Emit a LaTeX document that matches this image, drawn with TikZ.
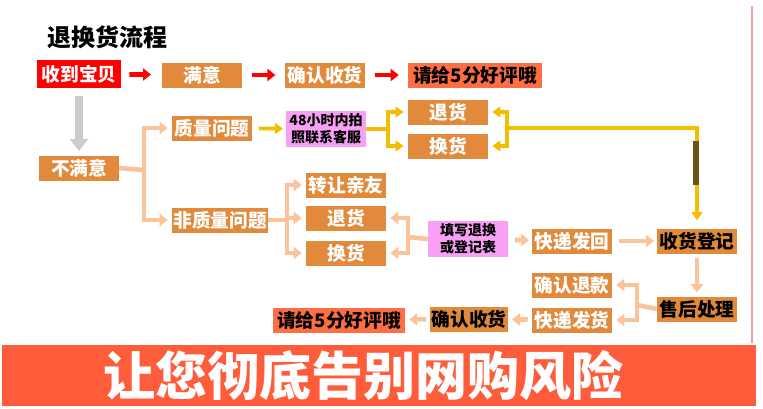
\documentclass[tikz,border=0pt]{standalone}
\usepackage{fontspec}
\setmainfont{Noto Sans CJK SC}
\usetikzlibrary{arrows.meta}
\definecolor{boxorange}{HTML}{E28A3B}
\definecolor{lightorange}{HTML}{FAC39A}
\definecolor{goldline}{HTML}{F3BE00}
\definecolor{pinkbox}{HTML}{F7A0F6}
\definecolor{redorange}{HTML}{FF6E42}
\definecolor{banner}{HTML}{FF5C3C}
\definecolor{darkseg}{HTML}{6E5414}
\definecolor{edgepink}{HTML}{F4A0A0}
\tikzset{
  box/.style={fill=boxorange, text=white, font=\bfseries\fontsize{14}{14}\selectfont,
    minimum width=60pt, minimum height=18.75pt, inner sep=0pt},
  darkbox/.style={box, text=black},
  rate/.style={box, fill=redorange, text=black, minimum width=99pt},
  pinkbox/.style={fill=pinkbox, text=black, font=\bfseries\fontsize{10.5}{13}\selectfont,
    align=center, minimum width=60pt, minimum height=27pt, inner sep=0pt},
  redarr/.style={draw=red, line width=3.5pt, -{Triangle[width=9pt,length=6pt]}},
  grayarr/.style={draw=black!20, line width=5.5pt, -{Triangle[width=13pt,length=9pt]}},
  lt/.style={draw=lightorange, line width=3.5pt},
  lta/.style={lt, -{Triangle[width=9pt,length=6pt]}, shorten >=3pt},
  yl/.style={draw=goldline, line width=2.8pt},
  yla/.style={yl, -{Triangle[width=8pt,length=6pt]}, shorten >=3pt}
}
\begin{document}
\begin{tikzpicture}[x=0.75pt,y=-0.75pt]
\useasboundingbox (0,0) rectangle (763,408);
% title
\node[font=\bfseries\fontsize{18}{18}\selectfont] (title) at (107,37) {退换货流程};
% top row
\node[box, fill=red, minimum width=63pt, minimum height=21pt] (rcv) at (79,74) {收到宝贝};
\node[box] (sat) at (202,75) {满意};
\node[box] (conf1) at (325,75) {确认收货};
\node[rate, minimum width=100pt] (rate1) at (475,75) {请给5分好评哦};
\draw[redarr, shorten <=6pt, shorten >=8pt] (rcv) -- (sat);
\draw[redarr, shorten <=7pt, shorten >=7pt] (sat) -- (conf1);
\draw[redarr, shorten <=7pt, shorten >=7pt] (conf1) -- (rate1);
% unhappy branch
\node[box] (unsat) at (79,168) {不满意};
\draw[grayarr, shorten <=6pt, shorten >=3pt] (rcv) -- (unsat);
\node[box] (qual) at (212,128) {质量问题};
\node[box, minimum width=72pt] (nqual) at (220,220) {非质量问题};
\coordinate (j1) at (144,170);
\draw[lt] (unsat.east) -- (j1);
\draw[lta] (j1) |- (qual.west);
\draw[lta] (j1) |- (nqual.west);
% quality problem
\node[pinkbox] (photo) at (326,129) {48小时内拍\\照联系客服};
\draw[yla, shorten <=5pt, shorten >=2pt] (qual) -- (photo);
\node[box] (ret1) at (448,112) {退货};
\node[box] (exc1) at (448,146) {换货};
\coordinate (j2) at (388,129);
\draw[yl] (photo.east) -- (j2);
\draw[yla] (j2) |- (ret1.west);
\draw[yla] (j2) |- (exc1.west);
\node[darkbox, minimum width=60pt] (recv) at (697,241) {收货登记};
\coordinate (j3) at (507,128);
\draw[yla] (j3) |- (ret1.east);
\draw[yla] (j3) |- (exc1.east);
\draw[yla, shorten >=6pt] (j3) -| (recv.north);
\draw[darkseg, line width=5pt] (696,141) -- (696,185);
% non-quality problem
\node[box] (gift) at (346,185) {转让亲友};
\node[box] (ret2) at (346,218) {退货};
\node[box] (exc2) at (346,253) {换货};
\coordinate (j4) at (287,220);
\draw[lt] (nqual.east) -- (j4);
\draw[lta] (j4) |- (gift.west);
\draw[lta] (j4) |- (ret2.west);
\draw[lta] (j4) |- (exc2.west);
\node[pinkbox] (form) at (468,239) {填写退换\\或登记表};
\coordinate (j5) at (408,237);
\draw[lt] (form.west) -- (j5);
\draw[lta] (j5) |- (ret2.east);
\draw[lta] (j5) |- (exc2.east);
\node[box] (back) at (572,241) {快递发回};
\draw[lta, shorten <=5pt, shorten >=2pt] (form) -- (back);
\draw[lta, shorten <=5pt, shorten >=2pt] (back) -- (recv);
% after sales
\node[darkbox] (after) at (697,309) {售后处理};
\draw[lta, shorten <=3pt] (recv) -- (after);
\node[box] (refund) at (572,285) {确认退款};
\node[box] (ship) at (572,320) {快递发货};
\coordinate (j6) at (637,305);
\draw[lt] (after.west) -- (j6);
\draw[lta] (j6) |- (refund.east);
\draw[lta] (j6) |- (ship.east);
\node[darkbox, minimum width=58pt] (conf2) at (469,319) {确认收货};
\node[rate] (rate2) at (339,320) {请给5分好评哦};
\draw[lta, shorten <=3pt] (ship) -- (conf2);
\draw[lta, shorten <=3pt] (conf2) -- (rate2);
% right edge and banner
\draw[edgepink, line width=1pt] (752,6) -- (752,343);
\fill[banner] (2,345) rectangle (756,406);
\node[text=white, font=\bfseries\fontsize{39}{39}\selectfont] (slogan) at (363,376) {让您彻底告别网购风险};
\end{tikzpicture}
\end{document}
